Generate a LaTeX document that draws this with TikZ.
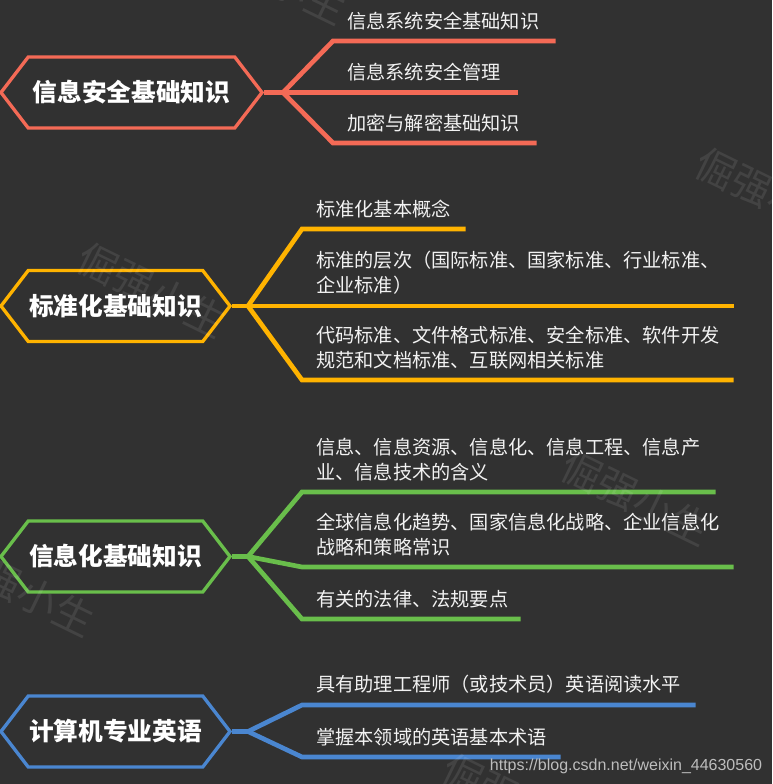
\documentclass[tikz,border=0pt]{standalone}
\usepackage{fontspec}
\setmainfont{Noto Sans CJK SC}
\newfontfamily\urlfont{Liberation Sans}
\usetikzlibrary{shapes.symbols}
\definecolor{bg}{HTML}{313131}
\definecolor{cred}{HTML}{F46A56}
\definecolor{cyel}{HTML}{FFB300}
\definecolor{cgrn}{HTML}{69BE4B}
\definecolor{cblu}{HTML}{4A86D0}
\definecolor{ink}{HTML}{F2F2F2}
\definecolor{urlgray}{HTML}{BDBDBD}

\tikzset{
  topic/.style={signal, signal to=west and east, signal pointer angle=105,
    draw=#1, line width=2.5pt, text=white, minimum height=53.25pt, inner sep=0pt,
    font=\fontsize{18.5pt}{22pt}\selectfont\bfseries},
  branch/.style={line width=3.5pt, draw=#1},
  leaf/.style={anchor=south west, text=ink, align=left, text width=#1,
    inner xsep=10.5pt, inner ysep=8.25pt,
    font=\fontsize{14.4pt}{18.75pt}\selectfont},
  wmark/.style={text=white, opacity=0.09, rotate=-26,
    font=\fontsize{30pt}{30pt}\selectfont}
}

\begin{document}
\begin{tikzpicture}[x=0.75pt, y=-0.75pt]
    \fill[bg] (0,0) rectangle (772,784);
    \useasboundingbox (0,0) rectangle (772,784);

    \node[topic=cred, minimum width=195.75pt] (t1) at (131.5,92.5) {信息安全基础知识};
    \coordinate (j1) at (283,92.5);
    \node[leaf=145.5pt] (b11) at (333,41) {信息系统安全基础知识};
    \node[leaf=117pt] (b12) at (333,92.5) {信息系统安全管理};
    \node[leaf=131.25pt] (b13) at (333,143) {加密与解密基础知识};
    \draw[branch=cred] (t1.east) -- (j1);
    \draw[branch=cred] (j1) -- (b11.south west) -- (b11.south east);
    \draw[branch=cred] (j1) -- (b12.south west) -- (b12.south east);
    \draw[branch=cred] (j1) -- (b13.south west) -- (b13.south east);

    \node[topic=cyel, minimum width=171.75pt] (t2) at (115.5,306) {标准化基础知识};
    \coordinate (j2) at (248,306);
    \node[leaf=101.25pt] (b21) at (302,229) {标准化基本概念};
    \node[leaf=302.25pt] (b22) at (302,306) {标准的层次（国际标准、国家标准、行业标准、\\企业标准）};
    \node[leaf=302.25pt] (b23) at (302,380) {代码标准、文件格式标准、安全标准、软件开发\\规范和文档标准、互联网相关标准};
    \draw[branch=cyel] (t2.east) -- (j2);
    \draw[branch=cyel] (j2) -- (b21.south west) -- (b21.south east);
    \draw[branch=cyel] (j2) -- (b22.south west) -- (b22.south east);
    \draw[branch=cyel] (j2) -- (b23.south west) -- (b23.south east);

    \node[topic=cgrn, minimum width=171.75pt] (t3) at (115.5,556.5) {信息化基础知识};
    \coordinate (j3) at (248,556.5);
    \node[leaf=288.75pt] (b31) at (302,492) {信息、信息资源、信息化、信息工程、信息产\\业、信息技术的含义};
    \node[leaf=302.25pt] (b32) at (302,567) {全球信息化趋势、国家信息化战略、企业信息化\\战略和策略常识};
    \node[leaf=142.5pt] (b33) at (302,619) {有关的法律、法规要点};
    \draw[branch=cgrn] (t3.east) -- (j3);
    \draw[branch=cgrn] (j3) -- (b31.south west) -- (b31.south east);
    \draw[branch=cgrn] (j3) -- (b32.south west) -- (b32.south east);
    \draw[branch=cgrn] (j3) -- (b33.south west) -- (b33.south east);

    \node[topic=cblu, minimum width=171.75pt] (t4) at (115.5,731.5) {计算机专业英语};
    \coordinate (j4) at (248,731.5);
    \node[leaf=273.75pt] (b41) at (302,705) {具有助理工程师（或技术员）英语阅读水平};
    \node[leaf=172.5pt] (b42) at (302,757) {掌握本领域的英语基本术语};
    \draw[branch=cblu] (t4.east) -- (j4);
    \draw[branch=cblu] (j4) -- (b41.south west) -- (b41.south east);
    \draw[branch=cblu] (j4) -- (b42.south west) -- (b42.south east);

    \node[wmark] (w1) at (272,-23) {倔强小生};
    \node[wmark] (w2) at (770,195) {倔强小生};
    \node[wmark] (w3) at (152,290) {倔强小生};
    \node[wmark] (w4) at (636,498) {倔强小生};
    \node[wmark] (w5) at (20,589) {倔强小生};
    \node[wmark] (w6) at (517,801) {倔强小生};
    \node[anchor=base, text=urlgray, font=\urlfont\fontsize{12pt}{14pt}\selectfont] (url) at (626,770) {https://blog.csdn.net/weixin\_44630560};
\end{tikzpicture}
\end{document}
